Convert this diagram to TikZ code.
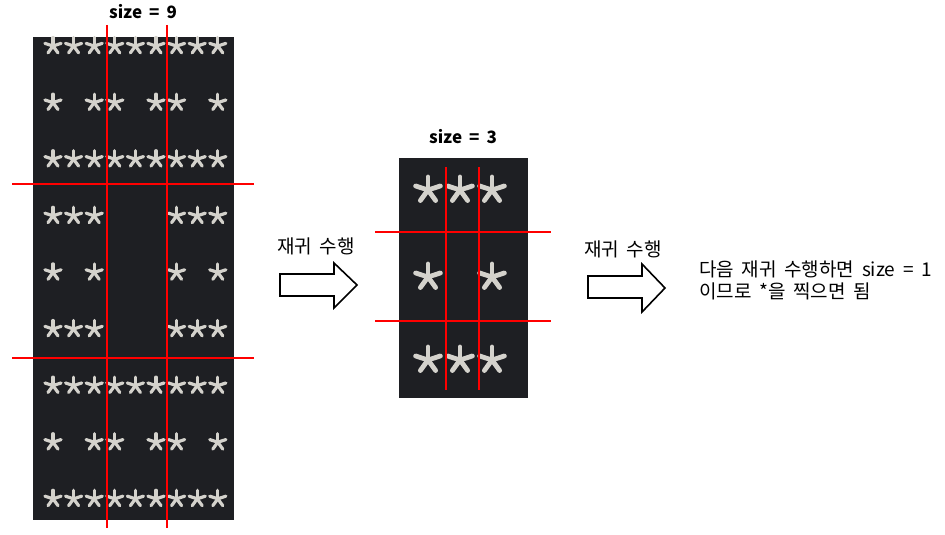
\documentclass[tikz,border=0pt]{standalone}
\usepackage{fontspec}
\setmainfont{Noto Sans CJK KR}
\newfontfamily\kr[WordSpace=1.8]{Noto Sans CJK KR}
\definecolor{panelbg}{HTML}{1E1F23}
\definecolor{starcol}{HTML}{D4D2CC}
\definecolor{gridred}{HTML}{FF0000}
\newcommand{\starat}[4]{%
  \foreach \ang in {90,162,234,306,18}{\draw[starcol,line width=#4,line cap=round] (#1,#2) -- ++(\ang:#3);}}
\tikzset{
  panel/.style={fill=panelbg,draw=none},
  redline/.style={draw=gridred,line width=1.8pt},
  bigarrow/.style={draw=black,fill=white,line width=1.6pt,line join=miter},
  lbl/.style={font=\kr\fontsize{19}{22}\selectfont,inner sep=0pt},
  title/.style={font=\kr\bfseries\fontsize{17}{20}\selectfont,inner sep=0pt}
}
\begin{document}
\begin{tikzpicture}[x=1pt,y=-1pt]
\useasboundingbox (0,0) rectangle (945,535);
% left panel (size 9)
\fill[panel] (33,37) rectangle (234,520);
\foreach \r in {0,...,8}{
  \foreach \c in {0,...,8}{
    \pgfmathtruncatemacro{\blank}{((mod(\r,3)==1) && (mod(\c,3)==1)) || ((mod(int(\r/3),3)==1) && (mod(int(\c/3),3)==1))}
    \ifnum\blank=0
      \pgfmathsetmacro{\sx}{53+20.6*\c}
      \pgfmathsetmacro{\sy}{46+56.6*\r}
      \starat{\sx}{\sy}{8.5pt}{3.2pt}
    \fi
  }
}
\draw[redline] (107,25) -- (107,528);
\draw[redline] (167,25) -- (167,528);
\draw[redline] (12,184) -- (254,184);
\draw[redline] (12,358) -- (254,358);
\node[title] (t9) at (143,12) {size = 9};
% middle panel (size 3)
\fill[panel] (399,158) rectangle (528,398);
\foreach \r/\yy in {0/190,1/277,2/360}{
  \foreach \c/\xx in {0/428,1/460,2/492}{
    \ifnum\r=1 \ifnum\c=1 \else \starat{\xx}{\yy}{13pt}{4.8pt}\fi
    \else \starat{\xx}{\yy}{13pt}{4.8pt}\fi
  }
}
\draw[redline] (446,167) -- (446,390);
\draw[redline] (479,167) -- (479,390);
\draw[redline] (375,232) -- (551,232);
\draw[redline] (375,321) -- (551,321);
\node[title] (t3) at (463,137) {size = 3};
% arrows
\draw[bigarrow] (280,274) -- (334,274) -- (334,263) -- (357,285) -- (334,308) -- (334,296) -- (280,296) -- cycle;
\node[lbl] (r1) at (316,246) {재귀 수행};
\draw[bigarrow] (588,276) -- (642,276) -- (642,264) -- (665,288) -- (642,312) -- (642,298) -- (588,298) -- cycle;
\node[lbl] (r2) at (623,249) {재귀 수행};
% final text
\node[lbl,anchor=west] (n1) at (699,269) {다음 재귀 수행하면 size = 1};
\node[lbl,anchor=west] (n2) at (699,291) {이므로 *을 찍으면 됨};
\end{tikzpicture}
\end{document}
